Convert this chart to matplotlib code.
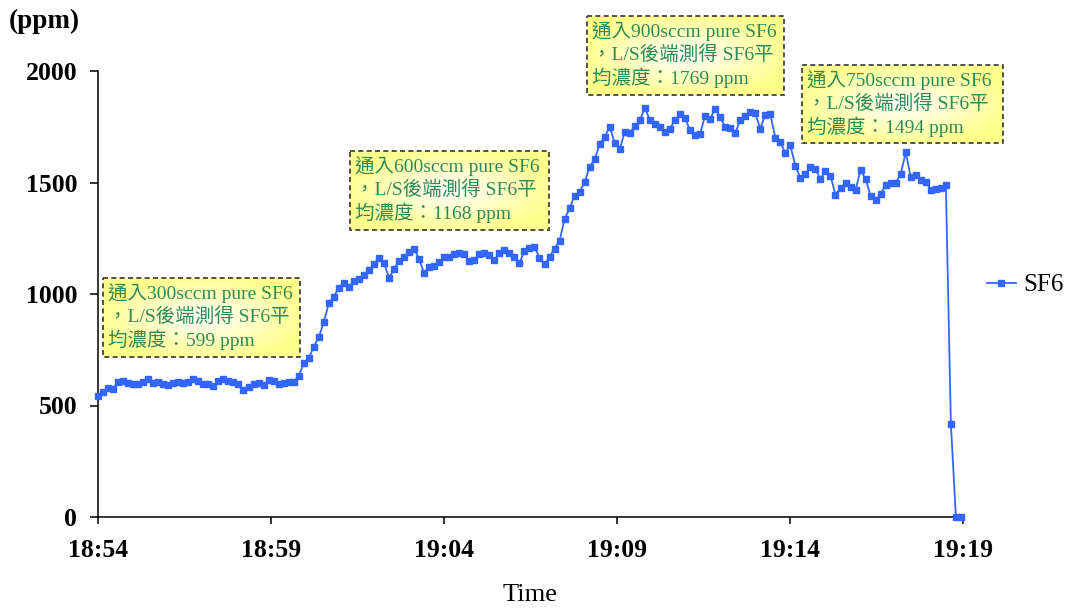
import matplotlib
matplotlib.use("Agg")
import matplotlib.pyplot as plt
import matplotlib.dates as mdates
from matplotlib.patches import Rectangle
import numpy as np
import pandas as pd

# SF6 readings behind the L/S, one sample every ~8.7 s starting 18:54
SF6 = [
    543, 562, 578, 576, 607, 610, 600, 597, 595, 607, 617, 600, 605, 598, 592,
    600, 606, 603, 606, 620, 612, 595, 595, 587, 610, 617, 612, 605, 598, 569,
    585, 595, 602, 592, 615, 611, 595, 602, 604, 606, 632,
    689, 711, 764, 806, 873, 958, 988, 1028, 1051, 1030, 1060, 1067, 1085,
    1108, 1133, 1163, 1140, 1073, 1111, 1149, 1164, 1187, 1203, 1157, 1093,
    1122, 1125, 1143, 1167, 1165, 1181, 1184, 1178, 1148,
    1153, 1179, 1185, 1175, 1153, 1182, 1197, 1182, 1167, 1137, 1194, 1205,
    1212, 1162, 1134, 1166, 1204, 1239,
    1336, 1384, 1441, 1459, 1501, 1571, 1604, 1673, 1705, 1750, 1676, 1650,
    1728, 1723, 1753, 1780, 1835, 1780, 1763, 1747, 1728, 1741,
    1780, 1806, 1788, 1736, 1713, 1716, 1800, 1785, 1830, 1795, 1747, 1746,
    1720, 1780, 1800, 1814, 1810,
    1742, 1803, 1806, 1701, 1680, 1633, 1667, 1574, 1522, 1538, 1571, 1561,
    1515, 1553, 1530, 1445, 1475, 1500, 1482, 1467, 1556, 1516, 1440, 1422,
    1449, 1489, 1496, 1500, 1537, 1636, 1524, 1534, 1512, 1504, 1467, 1470,
    1475, 1487,
    415, 0, 0,
]
START = "2024-01-01 18:54:00"
END = "2024-01-01 19:19:00"
STEP = "8700ms"

FLOWS = [300, 600, 900, 750]
MEANS = [599, 1168, 1769, 1494]
# note boxes in pixel coords: left, top, right, bottom
BOXES = [(103, 278, 300, 357), (350, 151, 549, 230),
         (587, 16, 784, 95), (802, 65, 1003, 143)]

BLUE = "#3366ff"
GREEN = "#2e8b57"
SERIF = "Liberation Serif"
CJK = [SERIF, "Noto Sans CJK TC", "DejaVu Sans"]

W, H = 1074, 610
t = pd.date_range(START, periods=len(SF6), freq=STEP)

fig = plt.figure(figsize=(W / 100, H / 100), dpi=100)
ax = fig.add_axes([98 / W, 93 / H, 865 / W, 446 / H])

ax.plot(t, SF6, color=BLUE, lw=1.3, marker="s", ms=4.3, mec=BLUE, mfc=BLUE,
        label="SF6", clip_on=False, zorder=3)

ax.set_xlim(pd.Timestamp(START), pd.Timestamp(END))
ax.set_ylim(0, 2000)
ax.set_yticks(range(0, 2001, 500))
ax.xaxis.set_major_locator(mdates.MinuteLocator(byminute=[54, 59, 4, 9, 14, 19]))
ax.xaxis.set_major_formatter(mdates.DateFormatter("%H:%M"))
for s in ("top", "right"):
    ax.spines[s].set_visible(False)
for s in ("left", "bottom"):
    ax.spines[s].set_linewidth(1.1)
ax.tick_params(axis="y", direction="out", length=6, width=1.1, pad=9)
ax.tick_params(axis="x", direction="out", length=5, width=1.1, pad=11)
for lb in ax.get_xticklabels() + ax.get_yticklabels():
    lb.set_fontfamily(SERIF)
    lb.set_fontweight("bold")
    lb.set_fontsize(18.5)

ax.set_xlabel("Time", family=SERIF, fontsize=19, labelpad=16)
fig.text(9 / W, 1 - 21 / H, "(ppm)", family=SERIF, fontsize=19.5,
         fontweight="bold", va="center", ha="left")

ax.legend(loc="center left", bbox_to_anchor=(987 / W, 1 - 285 / H),
          bbox_transform=fig.transFigure, frameon=False, handlelength=1.15,
          handletextpad=0.3, borderaxespad=0, borderpad=0,
          prop={"family": SERIF, "size": 18})

# overlay in pixel coords for the yellow note boxes
ov = fig.add_axes([0, 0, 1, 1])
ov.set_xlim(0, W)
ov.set_ylim(H, 0)
ov.axis("off")
ov.patch.set_alpha(0)

gy, gx = np.mgrid[-1:1:80j, -1:1:200j]
r = np.clip(np.sqrt(gx ** 2 + gy ** 2) / np.sqrt(2) * 1.3, 0, 1)
edge = np.array([1.0, 1.0, 0.55])
grad = (1 - r[..., None]) * np.ones(3) + r[..., None] * edge

for (x0, y0, x1, y1), flow, mean in zip(BOXES, FLOWS, MEANS):
    ov.imshow(grad, extent=(x0, x1, y1, y0), aspect="auto", zorder=4,
              interpolation="bilinear")
    ov.add_patch(Rectangle((x0, y0), x1 - x0, y1 - y0, fill=False,
                           ec="#333333", lw=1.2, ls=(0, (3, 2)), zorder=5))
    lines = [f"通入{flow}sccm pure SF6", "，L/S後端測得 SF6平",
             f"均濃度：{mean} ppm"]
    for k, s in enumerate(lines):
        ov.text(x0 + 5, y0 + 15 + 23.5 * k, s, family=CJK, fontsize=14,
                color=GREEN, va="center", ha="left", zorder=6)

ov.set_xlim(0, W)
ov.set_ylim(H, 0)
fig.savefig("out.png", dpi=100)
